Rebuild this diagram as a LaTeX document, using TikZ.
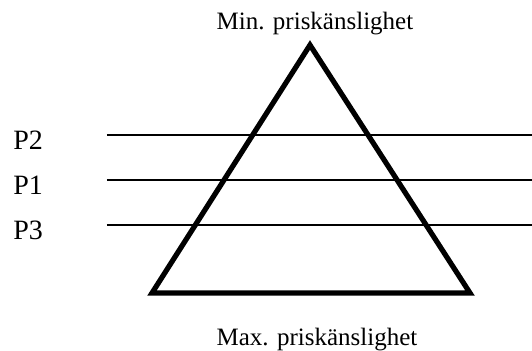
\documentclass[tikz,border=0pt]{standalone}
\usepackage{fontspec}
\setmainfont{Liberation Serif}
\usetikzlibrary{positioning}
\tikzset{
  pyramid/.style={line width=2.6pt, line join=miter},
  level/.style={line width=0.8pt},
  levellabel/.style={anchor=base west, inner sep=0pt, font=\fontsize{14}{16}\selectfont},
  endlabel/.style={anchor=base, inner sep=0pt, font=\fontsize{12.5}{15}\selectfont}
}

\begin{document}
\begin{tikzpicture}[x=0.5pt, y=-0.5pt]
  \useasboundingbox (0,0) rectangle (532,350);

  % Triangle corners
  \coordinate (top)   at (310,45);
  \coordinate (left)  at (152,293);
  \coordinate (right) at (470,293);
  \draw[pyramid] (top) -- (left) -- (right) -- cycle;

  % End labels
  \node[endlabel] (minlabel) at (315,29) {Min. priskänslighet};
  \node[endlabel] (maxlabel) at (317,345) {Max. priskänslighet};

  % Levels
  \foreach \name/\y in {P2/135, P1/180, P3/225} {
    \coordinate (\name w) at (107,\y);
    \coordinate (\name e) at (532,\y);
    \node[levellabel] (\name) at (13,\y+14) {\name};
    \draw[level] (\name w) -- (\name e);
  }

\end{tikzpicture}
\end{document}
